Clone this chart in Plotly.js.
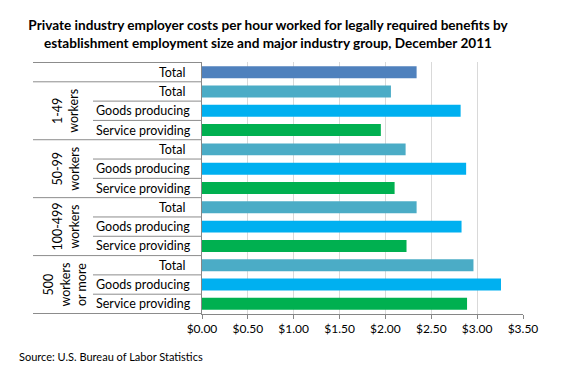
<!DOCTYPE html>
<html><head><meta charset="utf-8">
<script src="https://cdn.plot.ly/plotly-3.0.1.min.js"></script>
<style>body{margin:0;background:#fff}#c{width:580px;height:371px}</style>
</head><body><div id="c"></div>
<script>
const groups = ["All", "1-49 workers", "1-49 workers", "1-49 workers", "50-99 workers", "50-99 workers", "50-99 workers", "100-499 workers", "100-499 workers", "100-499 workers", "500 workers or more", "500 workers or more", "500 workers or more"];
const labels = ["Total", "Total", "Goods producing", "Service providing", "Total", "Goods producing", "Service providing", "Total", "Goods producing", "Service providing", "Total", "Goods producing", "Service providing"];
const values = [2.34, 2.06, 2.82, 1.95, 2.22, 2.88, 2.10, 2.34, 2.83, 2.23, 2.96, 3.26, 2.89];
const groupLabels = ["1-49<br>workers", "50-99<br>workers", "100-499<br>workers", "500<br>workers<br>or more"];
const tickVals = [0, 0.5, 1, 1.5, 2, 2.5, 3, 3.5];
const tickText = ["$0.00", "$0.50", "$1.00", "$1.50", "$2.00", "$2.50", "$3.00", "$3.50"];

const ids = groups.map((g, i) => g + "|" + labels[i]);
const colors = labels.map((l, i) => i === 0 ? "#4F81BD" : (l === "Total" ? "#4BACC6" : (l === "Goods producing" ? "#00B0F0" : "#00B050")));

const font = "Lato, sans-serif";
const L = 202, R = 523, T = 62, B = 314, W = 580, H = 371;
const px = x => (x - L) / (R - L);
const py = y => (B - y) / (B - T);

const annotations = [];
labels.forEach((l, i) => {
  if (l === "Total") {
    annotations.push({xref: "paper", yref: "y", x: px(188), y: ids[i], text: l, xanchor: "right", showarrow: false, font: {size: 12.5, color: "#000", family: font}});
  } else {
    annotations.push({xref: "paper", yref: "y", x: px(94), y: ids[i], text: l, xanchor: "left", showarrow: false, font: {size: 12.5, color: "#000", family: font}});
  }
});
groupLabels.forEach((g, k) => {
  const c = 1 + k * 3 + 1;
  annotations.push({xref: "paper", yref: "y", x: px(k === 3 ? 65 : 66), y: ids[c], text: g, textangle: -90, showarrow: false, xanchor: "center", yanchor: "middle", font: {size: 12.5, color: "#000", family: font}});
});
annotations.push({xref: "paper", yref: "paper", x: px(17), y: py(356), text: "Source: U.S. Bureau of Labor Statistics", xanchor: "left", yanchor: "middle", showarrow: false, font: {size: 11, color: "#000", family: font}});

const shapes = [];
const line = {color: "#8C8C8C", width: 1};
[-0.5, 0.5, 3.5, 6.5, 9.5, 12.5].forEach(y => shapes.push({type: "line", xref: "paper", yref: "y", x0: px(33), x1: 0, y0: y, y1: y, line}));
[1.5, 2.5, 4.5, 5.5, 7.5, 8.5, 10.5, 11.5].forEach(y => shapes.push({type: "line", xref: "paper", yref: "y", x0: px(93), x1: 0, y0: y, y1: y, line}));

Plotly.newPlot("c", [{
  type: "bar", orientation: "h", y: ids, x: values,
  marker: {color: colors}, hoverinfo: "x"
}], {
  width: W, height: H,
  margin: {l: L, r: W - R, t: T, b: H - B, pad: 0},
  paper_bgcolor: "#fff", plot_bgcolor: "#fff",
  showlegend: false, bargap: 0.38,
  title: {text: "<b>Private industry employer costs per hour worked for legally required benefits by<br>establishment employment size and major industry group, December 2011</b>", x: 268 / W, xref: "container", xanchor: "center", y: 1 - 30 / H, yref: "container", yanchor: "middle", font: {size: 13.6, color: "#000", family: font}},
  xaxis: {range: [0, 3.5], tickvals: tickVals, ticktext: tickText, showgrid: true, gridcolor: "#D9D9D9", gridwidth: 1,
    zeroline: false, showline: true, linecolor: "#868686", ticks: "outside", ticklen: 4, tickcolor: "#868686",
    tickfont: {size: 12, color: "#000", family: font}, fixedrange: true},
  yaxis: {type: "category", autorange: "reversed", showticklabels: false, showline: true, linecolor: "#868686", showgrid: false, zeroline: false, ticks: "", fixedrange: true},
  annotations, shapes
}, {displayModeBar: false, staticPlot: true});
</script></body></html>
